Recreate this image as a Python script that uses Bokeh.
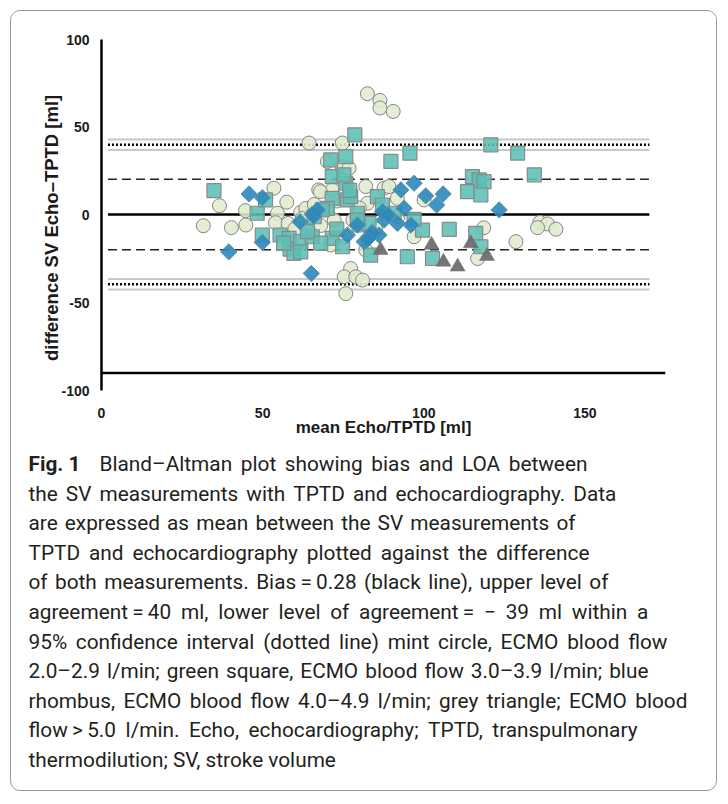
import math
from bokeh.plotting import figure
from bokeh.layouts import column
from bokeh.models import Range1d, FixedTicker, Span, Div
from bokeh.embed import file_html
from bokeh.resources import INLINE

# ---------------- data ----------------
circle_x = [31.6, 36.6, 40.3, 44.7, 44.8, 53.5, 57.5, 54.6, 54.0, 57.9, 61.8, 63.4, 64.4, 67.4,
            62.3, 74.7, 70.1, 71.6, 74.7, 76.8, 70.1, 72.2, 75.3, 71.1, 82.0, 77.3, 75.3, 78.9,
            75.8, 81.0, 82.5, 86.4, 86.4, 90.5, 82.0, 87.7, 89.2, 82.5, 91.8, 100.1, 97.0, 116.7,
            118.6, 128.6, 136.0, 138.4, 141.0, 135.3, 66.0, 60.0, 68.0, 78.0, 85.0, 80.0, 92.0,
            73.0, 64.5, 67.9]
circle_y = [-6.1, 5.3, -7.2, 2.5, -5.7, 15.3, 7.3, 1.0, -4.4, -4.8, 1.5, 3.8, 41.0, 14.3,
            -2.0, 41.0, 30.5, 14.3, 27.6, 26.7, 3.8, -2.9, -12.4, -17.1, -20.0, -30.5, -35.2, -35.2,
            -44.8, -37.1, 69.1, 65.3, 61.0, 59.0, 16.2, 15.3, 16.2, 6.7, 9.5, 8.6, -12.4, -24.8,
            -7.3, -15.2, -4.2, -5.1, -8.1, -7.2, 6.0, -8.0, -6.0, -3.0, -8.0, 4.0, -1.0,
            8.0, -10.0, 13.3]

square_x = [34.9, 48.3, 49.9, 50.9, 55.4, 58.2, 58.5, 59.7, 61.8, 65.4, 63.9, 71.1, 75.8, 78.6,
            71.6, 75.8, 75.2, 76.3, 71.6, 70.1, 68.5, 66.0, 56.5, 61.8, 71.6, 74.8, 79.4, 79.9,
            89.8, 95.7, 77.3, 85.6, 83.0, 87.2, 90.8, 79.4, 83.5, 94.9, 99.6, 120.8, 129.1, 134.3,
            115.1, 117.2, 118.7, 113.6, 117.7, 107.9, 116.1, 117.7, 102.7, 97.0, 73.0, 68.0, 77.0]
square_y = [13.9, 1.0, -11.4, 8.6, -11.4, -13.3, -19.4, -21.9, -15.2, -12.4, -9.5, 31.4, 33.3, 45.7,
            21.9, 18.1, 22.9, 8.6, 9.5, 3.8, 2.9, -1.0, -16.0, -21.0, -13.3, -18.1, 1.0, -5.7,
            30.5, 35.2, 10.5, 10.5, -4.8, 5.7, 1.0, -2.9, -22.9, -23.8, -8.6, 40.0, 35.3, 22.9,
            21.9, 20.0, 19.0, 13.3, 11.4, -8.2, -10.5, -18.1, -24.8, -2.5, -8.0, -16.0, 14.0]

rhombus_x = [45.8, 49.9, 39.5, 49.9, 61.6, 65.1, 65.4, 65.9, 67.0, 76.3, 79.4, 92.9, 97.0, 93.9,
             87.2, 87.7, 91.8, 96.0, 83.0, 81.5, 86.1, 100.6, 106.0, 104.0, 123.4, 84.0, 82.5, 89.0]
rhombus_y = [12.0, 9.9, -21.0, -15.6, -3.8, -33.3, 0.4, -0.6, 2.9, -11.4, -5.7, 14.3, 18.1, 3.8,
             1.9, -2.9, -4.8, -5.7, -12.4, -15.2, -11.4, 10.9, 12.0, 5.7, 2.9, -10.0, -14.0, 0.0]

triangle_x = [86.6, 102.4, 106.1, 110.5, 114.6, 119.6]
triangle_y = [-20.0, -17.1, -26.7, -29.5, -16.2, -23.4]

bias = 0.28
sd_upper, sd_lower = 20.4, -19.8
loa_upper, loa_lower = 40.0, -39.5
ci_upper = [43.0, 37.0]
ci_lower = [-36.5, -42.5]
line_x = [2, 170]
x_axis_cross = -90

x_ticks = [0, 50, 100, 150]
y_ticks = [-100, -50, 0, 50, 100]

caption_head = "Fig. 1"
caption_first = "Bland\u2013Altman plot showing bias and LOA between"
caption_lines = [
    "the SV measurements with TPTD and echocardiography. Data",
    "are expressed as mean between the SV measurements of",
    "TPTD and echocardiography plotted against the difference",
    "of both measurements. Bias\u2009=\u20090.28 (black line), upper level of",
    "agreement\u2009=\u200940 ml, lower level of agreement\u2009= \u2212 39 ml within a",
    "95% confidence interval (dotted line) mint circle, ECMO blood flow",
    "2.0\u20132.9 l/min; green square, ECMO blood flow 3.0\u20133.9 l/min; blue",
    "rhombus, ECMO blood flow 4.0\u20134.9 l/min; grey triangle; ECMO blood",
    "flow\u2009>\u20095.0 l/min. Echo, echocardiography; TPTD, transpulmonary",
    "thermodilution; SV, stroke volume",
]
# right edge (px from caption's left text edge) of each justified caption line
caption_first_width = 488
caption_widths = [588, 547, 561, 580, 620, 639, 620, 659, 609, None]

# ---------------- plot figure ----------------
W = 705
PH = 438
FL, FR, FT, FB = 90, 654, 28, 379   # frame edges in canvas px

p = figure(width=W, height=PH, output_backend="svg", toolbar_location=None,
           x_range=Range1d(0, 175), y_range=Range1d(-100, 100),
           min_border_left=FL, min_border_right=W - FR,
           min_border_top=FT, min_border_bottom=PH - FB)
p.grid.visible = False
p.outline_line_color = None
p.background_fill_color = "white"
p.border_fill_color = "white"

AX_FONT = "Liberation Sans"
p.yaxis.ticker = FixedTicker(ticks=y_ticks)
p.yaxis.major_label_overrides = {t: str(t) for t in y_ticks}
p.yaxis.axis_line_width = 2.5
p.yaxis.axis_line_color = "black"
p.yaxis.major_label_standoff = 12
p.yaxis.axis_label = "difference SV Echo\u2013TPTD [ml]" + "\u00a0" * 5
p.yaxis.axis_label_text_font_size = "18.5px"
p.yaxis.axis_label_standoff = -4
p.xaxis.ticker = FixedTicker(ticks=x_ticks)
p.xaxis.axis_line_color = None
p.xaxis.major_label_standoff = 17
p.xaxis.axis_label = "mean Echo/TPTD [ml]"
p.xaxis.axis_label_text_font_size = "17px"
p.xaxis.axis_label_standoff = -3
for ax in (p.xaxis, p.yaxis):
    ax.major_tick_out = 0
    ax.major_tick_in = 0
    ax.minor_tick_out = 0
    ax.minor_tick_in = 0
    ax.major_label_text_font = AX_FONT
    ax.major_label_text_font_style = "bold"
    ax.major_label_text_font_size = "14px"
    ax.major_label_text_color = "#1a1a1a"
    ax.axis_label_text_font = AX_FONT
    ax.axis_label_text_font_style = "bold"
    ax.axis_label_text_color = "#1a1a1a"

# x axis line crossing at -90
p.add_layout(Span(location=x_axis_cross, dimension="width", line_color="black", line_width=2.5))

# reference lines
for yv in ci_upper + ci_lower:
    p.line(line_x, [yv, yv], line_color="#c8c8c8", line_width=2)
p.line(line_x, [bias, bias], line_color="black", line_width=2.5)
for yv in (sd_upper, sd_lower):
    p.line(line_x, [yv, yv], line_color="#222222", line_width=1.5, line_dash="9 5")
for yv in (loa_upper, loa_lower):
    p.line(line_x, [yv, yv], line_color="black", line_width=2.5, line_dash="2 2")

# markers
p.scatter(circle_x, circle_y, marker="circle", size=14, fill_color="#dfecce",
          fill_alpha=0.88, line_color="#858585", line_width=1)
p.scatter(square_x, square_y, marker="square", size=14, fill_color="#5bbfb5",
          fill_alpha=0.88, line_color="#8a8a8a", line_width=1.2)
p.scatter(rhombus_x, rhombus_y, marker="square", angle=math.pi / 4, size=11.5,
          fill_color="#2a88bd", fill_alpha=0.9, line_color="#5f8ea3", line_width=1)
p.scatter(triangle_x, triangle_y, marker="triangle", size=15, fill_color="#6e6e6e",
          fill_alpha=0.95, line_color="#6e6e6e", line_width=0.5)

# ---------------- caption ----------------
CH = 782 - 3 - PH
LH = 29.6


def justified(text, width):
    words = "".join("<span>%s</span>" % w for w in text.split(" "))
    return ('<div style="display:flex;justify-content:space-between;width:%dpx;'
            'height:%.1fpx;white-space:nowrap">%s</div>' % (width, LH, words))


rows = ['<div style="display:flex;height:%.1fpx;white-space:nowrap">'
        '<span style="display:inline-block;width:71px;flex:none;font-weight:700">%s</span>'
        '%s</div>' % (LH, caption_head, justified(caption_first, caption_first_width))]
for line, w in zip(caption_lines, caption_widths):
    if w is None:
        rows.append('<div style="height:%.1fpx;white-space:nowrap">%s</div>' % (LH, line))
    else:
        rows.append(justified(line, w))
html = ('<div style="font-family:Roboto,sans-serif;font-size:20.8px;line-height:%.1fpx;'
        'color:#231f20;padding-left:17.5px;padding-top:1px;margin:0">' % LH
        + "".join(rows) + "</div>")
cap = Div(text=html, width=W, height=CH, margin=0)

layout = column(p, cap, spacing=0,
                styles={"border": "1.5px solid #9a9a9a", "border-radius": "10px",
                        "overflow": "hidden", "margin": "10px 0 0 10px",
                        "background": "white"})

open("out.html", "w").write(file_html(layout, INLINE))
